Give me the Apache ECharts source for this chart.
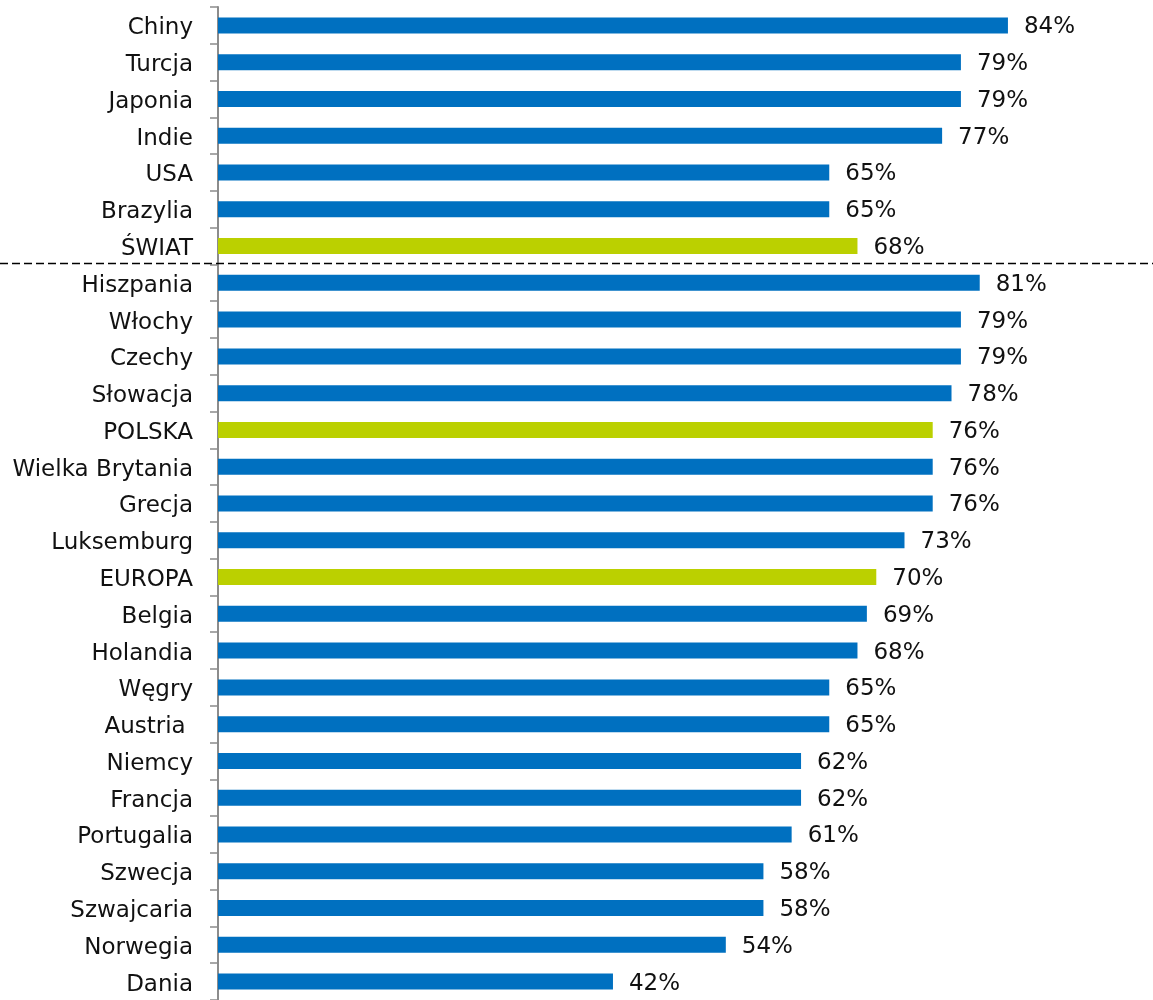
<!DOCTYPE html>
<html>
<head>
<meta charset="utf-8">
<script src="https://cdn.jsdelivr.net/npm/echarts@6/dist/echarts.min.js"></script>
<style>
  html, body { margin: 0; padding: 0; background: #fff; }
  #chart { width: 1153px; height: 1000px; }
</style>
</head>
<body>
<div id="chart"></div>
<script>
// dane z wykresu
const categories = ['Chiny', 'Turcja', 'Japonia', 'Indie', 'USA', 'Brazylia', 'ŚWIAT',
  'Hiszpania', 'Włochy', 'Czechy', 'Słowacja', 'POLSKA', 'Wielka Brytania', 'Grecja',
  'Luksemburg', 'EUROPA', 'Belgia', 'Holandia', 'Węgry', 'Austria ', 'Niemcy', 'Francja',
  'Portugalia', 'Szwecja', 'Szwajcaria', 'Norwegia', 'Dania']
const values = [84, 79, 79, 77, 65, 65, 68,
  81, 79, 79, 78, 76, 76, 76,
  73, 70, 69, 68, 65, 65, 62, 62,
  61, 58, 58, 54, 42]
const highlighted = ['ŚWIAT', 'POLSKA', 'EUROPA']
const splitAfter = 'ŚWIAT' // linia przerywana pod tą kategorią

const blue = '#0070C0'
const green = '#BBD000'
const font = 'DejaVu Sans'

const myChart = echarts.init(document.getElementById('chart'))
const option = {
  animation: false,
  grid: { left: 218, top: 7, width: 931, height: 999 },
  xAxis: {
    type: 'value',
    min: 0,
    max: 99,
    show: false,
    splitLine: { show: false }
  },
  yAxis: {
    type: 'category',
    inverse: true,
    data: categories,
    axisLine: { show: true, lineStyle: { color: '#8c8c8c', width: 2 } },
    axisTick: { show: true, length: 8, lineStyle: { color: '#8c8c8c', width: 1.5 } },
    axisLabel: {
      margin: 25,
      formatter: (v) => '{n|' + v + '}',
      rich: {
        n: { color: '#111', fontFamily: font, fontSize: 23, padding: [6, 0, 0, 0] }
      }
    }
  },
  series: [
    {
      type: 'bar',
      barWidth: 16,
      data: values.map((v, i) => ({
        value: v,
        itemStyle: { color: highlighted.includes(categories[i]) ? green : blue }
      })),
      label: {
        show: true,
        position: 'right',
        distance: 16,
        formatter: '{c}%',
        color: '#111',
        fontFamily: font,
        fontSize: 23,
        offset: [0, 2]
      }
    }
  ]
}
myChart.setOption(option)

// linia przerywana między ŚWIAT a Europą - na całą szerokość
const idx = categories.indexOf(splitAfter)
const y1 = myChart.convertToPixel({ yAxisIndex: 0 }, categories[idx])
const y2 = myChart.convertToPixel({ yAxisIndex: 0 }, categories[idx + 1])
const yLine = Math.round((y1 + y2) / 2) - 0.5
myChart.setOption({
  graphic: [{
    type: 'line',
    shape: { x1: 0, y1: yLine, x2: 1153, y2: yLine },
    style: { stroke: '#000', lineWidth: 1.5, lineDash: [8, 4] },
    z: 10
  }]
})
</script>
</body>
</html>
